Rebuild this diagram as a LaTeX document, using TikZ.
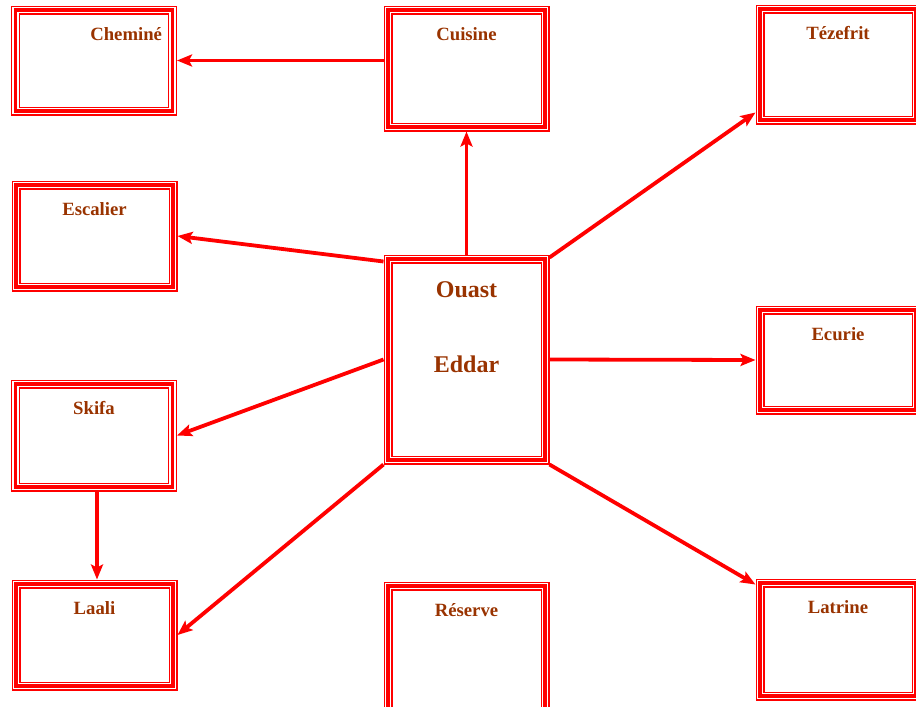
\documentclass[tikz,border=0pt]{standalone}
\usepackage{fontspec}
\setmainfont{Liberation Serif}
\usetikzlibrary{arrows.meta,positioning}
\definecolor{wallred}{RGB}{255,0,0}
\definecolor{roomtext}{RGB}{153,51,0}

\begin{document}
\begin{tikzpicture}[
  x=1pt, y=-1pt,
  room/.style={rectangle, draw=wallred, line width=9pt,
    postaction={draw=white, line width=6.5pt},
    postaction={draw=wallred, line width=3.5pt},
    minimum width=157pt, inner ysep=0pt, text height=30pt, text=roomtext,
    font=\bfseries\fontsize{18.7}{22}\selectfont},
  hall/.style={room, align=center, font=\bfseries\fontsize{24}{29}\selectfont},
  >={Stealth[length=15pt, width=12pt, inset=3pt]},
  link/.style={draw=wallred, line width=3.8pt, ->}
]
\useasboundingbox (0,0) rectangle (916,707);

% Left column
\node[room, text depth=71pt, text width=136pt, align=right, inner xsep=10pt] (CHEM) at (94,60.5) {Cheminé};
\node[room, text depth=72pt] (ESCA) at (94.5,236) {Escalier};
\node[room, text depth=73pt] (SKIF) at (94,435.5) {Skifa};
\node[room, text depth=72pt] (LAAL) at (94.5,635) {Laali};

% Middle column
\node[room, text depth=87pt] (CUIS) at (466.5,68.5) {Cuisine};
\node[hall, text height=113pt, text depth=88pt] (OE) at (466.5,359.5) {Ouast\\[46pt]Eddar};
\node[room, text depth=95pt] (RESE) at (466.5,648.5) {Réserve};

% Right column
\node[room, minimum width=156pt, text depth=81pt] (TEZE) at (838,64.5) {Tézefrit};
\node[room, minimum width=156pt, text depth=70pt] (ECUR) at (838,360) {Ecurie};
\node[room, minimum width=156pt, text depth=83pt] (LATR) at (838,639.5) {Latrine};

% Connectors
\path[link] (CUIS.west |- CHEM.east) -- (CHEM.east);
\path[link] (OE.north) -- (CUIS.south);
\path[link] ([yshift=-7pt]OE.north west) -- (ESCA.east);
\path[link] ([yshift=-3pt]OE.north east) -- ([yshift=12pt]TEZE.south west);
\path[link] (OE.east) -- (ECUR.west);
\path[link] (OE.west) -- (SKIF.east);
\path[link] (OE.south west) -- (LAAL.east);
\path[link] (OE.south east) -- ([yshift=-6pt]LATR.north west);
\path[link] ([xshift=3pt]SKIF.south) -- ([xshift=3pt]SKIF.south |- LAAL.north);
\end{tikzpicture}
\end{document}
